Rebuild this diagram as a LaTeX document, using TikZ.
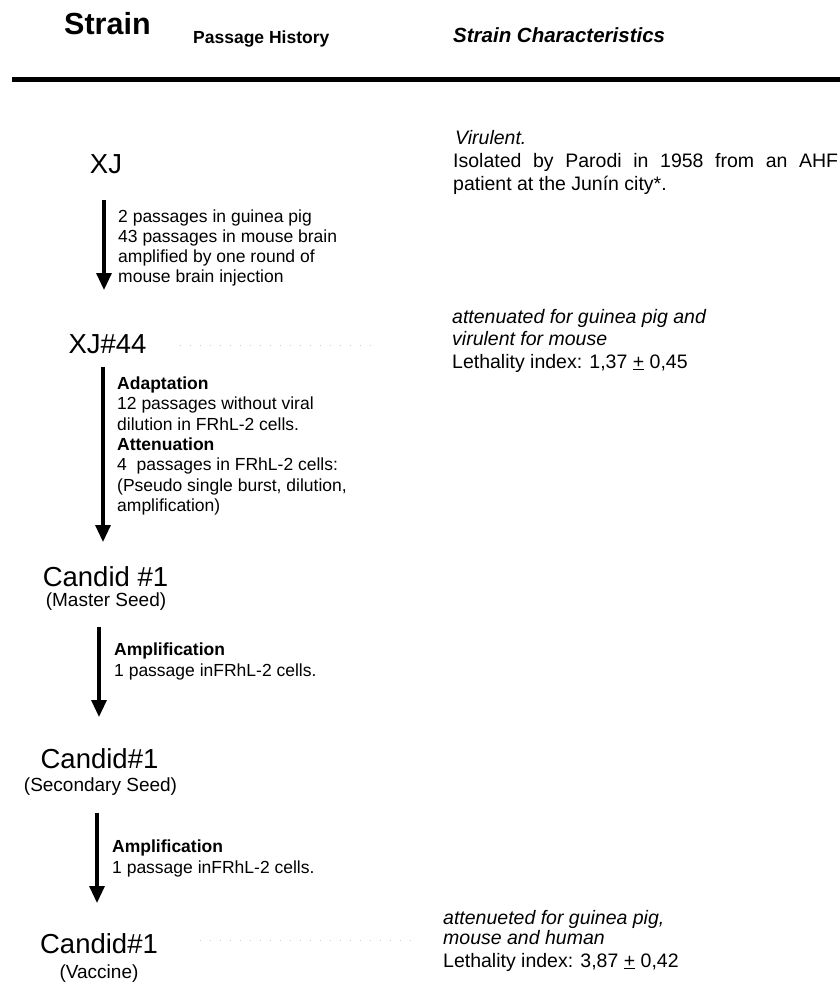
\documentclass[tikz,border=0pt]{standalone}
\usepackage{fontspec}
\setmainfont{Liberation Sans}
\usetikzlibrary{arrows.meta}
\begin{document}
\begin{tikzpicture}[x=1pt,y=-1pt,
  nm/.style={inner sep=0, anchor=base, font=\fontsize{27.5}{30}\selectfont},
  sub/.style={inner sep=0, anchor=base, font=\fontsize{19}{22}\selectfont},
  lbl/.style={inner sep=0, anchor=base west, font=\fontsize{17.5}{20}\selectfont},
  rt/.style={inner sep=0, anchor=base west, font=\fontsize{19.5}{23}\selectfont},
  arr/.style={line width=3.2pt, -{Triangle[width=15pt,length=17pt]}},
  faint/.style={gray!40, line width=0.7pt, dash pattern=on 1pt off 9pt}]
\useasboundingbox (0,0) rectangle (840,982);
% header
\node[inner sep=0, anchor=base west, font=\fontsize{30.5}{32}\selectfont\bfseries] (hstrain) at (64,35) {Strain};
\node[inner sep=0, anchor=base west, font=\fontsize{17.5}{20}\selectfont\bfseries] (hpass) at (193,44) {Passage History};
\node[inner sep=0, anchor=base west, font=\fontsize{20.5}{23}\selectfont\bfseries\itshape] (hchar) at (453,43) {Strain Characteristics};
\coordinate (hl1) at (12,79.5);
\coordinate (hl2) at (840,79.5);
\draw[line width=4.4pt] (hl1) -- (hl2);
% strains
\node[nm] (xj) at (106,173) {XJ};
\node[nm] (xj44) at (107.5,353) {XJ\#44};
\node[nm] (c1) at (105.5,586) {Candid \#1};
\node[sub] (c1s) at (106,606) {(Master Seed)};
\node[nm] (c2) at (99.5,768) {Candid\#1};
\node[sub] (c2s) at (100.5,791) {(Secondary Seed)};
\node[nm] (c3) at (99,953) {Candid\#1};
\node[sub] (c3s) at (99,978) {(Vaccine)};
% arrows
\coordinate (a1s) at (104,200); \coordinate (a1e) at (104,290);
\coordinate (a2s) at (103,367); \coordinate (a2e) at (103,542);
\coordinate (a3s) at (99,627);  \coordinate (a3e) at (99,717);
\coordinate (a4s) at (97,813);  \coordinate (a4e) at (97,903);
\draw[arr] (a1s) -- (a1e);
\draw[arr] (a2s) -- (a2e);
\draw[arr] (a3s) -- (a3e);
\draw[arr] (a4s) -- (a4e);
% passage labels
\node[lbl] (p1a) at (118,222) {2 passages in guinea pig};
\node[lbl] (p1b) at (118,242) {43 passages in mouse brain};
\node[lbl] (p1c) at (118,262) {amplified by one round of};
\node[lbl] (p1d) at (118,282) {mouse brain injection};
\node[lbl,font=\fontsize{17.5}{20}\selectfont\bfseries] (p2a) at (117,389) {Adaptation};
\node[lbl] (p2b) at (117,409.5) {12 passages without viral};
\node[lbl] (p2c) at (117,430) {dilution in FRhL-2 cells.};
\node[lbl,font=\fontsize{17.5}{20}\selectfont\bfseries] (p2d) at (117,450) {Attenuation};
\node[lbl] (p2e) at (117,470.5) {4\ \ passages in FRhL-2 cells:};
\node[lbl] (p2f) at (117,491) {(Pseudo single burst, dilution,};
\node[lbl] (p2g) at (117,511) {amplification)};
\node[lbl,font=\fontsize{17.5}{20}\selectfont\bfseries] (p3a) at (114,655) {Amplification};
\node[lbl] (p3b) at (114,676) {1 passage inFRhL-2 cells.};
\node[lbl,font=\fontsize{17.5}{20}\selectfont\bfseries] (p4a) at (112,852) {Amplification};
\node[lbl] (p4b) at (112,873) {1 passage inFRhL-2 cells.};
% characteristics
\node[rt,font=\fontsize{19.5}{23}\selectfont\itshape] (r1a) at (455,144) {Virulent.};
\node[rt] (r1b) at (453,167) {\makebox[385pt][s]{Isolated by Parodi in 1958 from an AHF}};
\node[rt] (r1c) at (453,190) {patient at the Jun\'{\i}n city*.};
\node[rt,font=\fontsize{19.5}{23}\selectfont\itshape] (r2a) at (452,323) {attenuated for guinea pig and};
\node[rt,font=\fontsize{19.5}{23}\selectfont\itshape] (r2b) at (452,345) {virulent for mouse};
\node[rt] (r2c) at (452,368) {Lethality index: 1,37 \underline{+} 0,45};
\node[rt,font=\fontsize{19.5}{23}\selectfont\itshape] (r3a) at (443,924) {attenueted for guinea pig,};
\node[rt,font=\fontsize{19.5}{23}\selectfont\itshape] (r3b) at (443,944) {mouse and human};
\node[rt] (r3c) at (443,967) {Lethality index: 3,87 \underline{+} 0,42};
% faint scan dots
\coordinate (d1s) at (180,345); \coordinate (d1e) at (373,345);
\coordinate (d2s) at (200,940); \coordinate (d2e) at (418,940);
\draw[faint] (d1s) -- (d1e);
\draw[faint] (d2s) -- (d2e);
\end{tikzpicture}
\end{document}
